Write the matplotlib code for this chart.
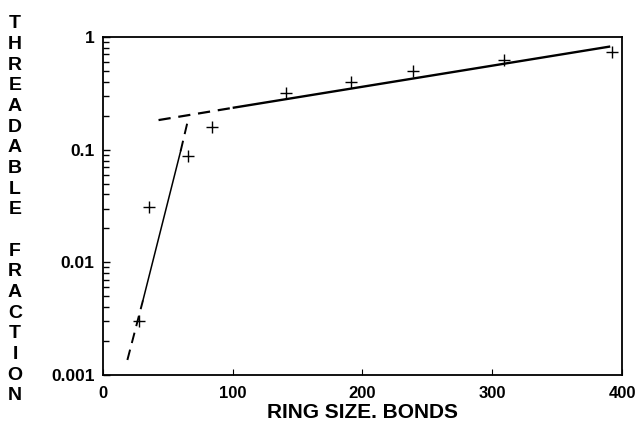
import matplotlib
matplotlib.use("Agg")
import matplotlib.pyplot as plt
from matplotlib.ticker import FixedLocator, NullFormatter, FixedFormatter

plt.rcParams['font.family'] = ['Liberation Sans', 'DejaVu Sans']

# Measured threadable fraction vs ring size (bonds)
ring_size = [28, 36, 66, 84, 141, 191, 239, 309, 392]
threadable = [0.0030, 0.031, 0.088, 0.158, 0.32, 0.40, 0.50, 0.62, 0.74]

# Small-ring fit: dashed extrapolation below, solid fit region, dashed above
steep_lo_x, steep_lo_y = [19, 31], [0.00136, 0.0046]
steep_mid_x, steep_mid_y = [31, 60], [0.0046, 0.097]
steep_hi_x, steep_hi_y = [60, 66], [0.097, 0.19]

# Large-ring fit: dashed extrapolation, solid fit region
flat_lo_x, flat_lo_y = [43, 101], [0.183, 0.236]
flat_mid_x, flat_mid_y = [101, 390], [0.236, 0.82]

y_ticks = [0.001, 0.01, 0.1, 1]
y_tick_labels = ["0.001", "0.01", "0.1", "1"]
x_ticks = [0, 100, 200, 300, 400]
x_tick_labels = ["0", "100", "200", "300", "400"]
ylabel_text = "THREADABLE FRACTION"
xlabel_text = "RING SIZE. BONDS"

fig = plt.figure(figsize=(6.38, 4.25), dpi=100)
ax = fig.add_axes([0.161, 0.1176, 0.814, 0.7954])

ax.set_yscale("log")
ax.set_xlim(0, 400)
ax.set_ylim(0.001, 1)

dash = (0, (5.5, 3.5))
ax.plot(steep_lo_x, steep_lo_y, color="black", lw=1.4, linestyle=dash)
ax.plot(steep_mid_x, steep_mid_y, color="black", lw=1.1)
ax.plot(steep_hi_x, steep_hi_y, color="black", lw=1.4, linestyle=dash)
ax.plot(flat_lo_x, flat_lo_y, color="black", lw=1.6, linestyle=dash)
ax.plot(flat_mid_x, flat_mid_y, color="black", lw=1.7)

ax.plot(ring_size, threadable, linestyle="none", marker="+", color="black",
        markersize=8, markeredgewidth=1.0)

for s in ax.spines.values():
    s.set_linewidth(1.3)

ax.yaxis.set_major_locator(FixedLocator(y_ticks))
ax.yaxis.set_major_formatter(FixedFormatter(y_tick_labels))
ax.yaxis.set_minor_formatter(NullFormatter())
ax.xaxis.set_major_locator(FixedLocator(x_ticks))
ax.xaxis.set_major_formatter(FixedFormatter(x_tick_labels))

ax.tick_params(axis="y", which="major", direction="in", length=5, width=1.0,
               pad=6, labelsize=12.5, left=True, right=False)
ax.tick_params(axis="y", which="minor", direction="in", length=4, width=1.0,
               left=True, right=False)
ax.tick_params(axis="x", which="major", direction="in", length=4, width=0.8,
               pad=8, labelsize=12, top=False)
for lab in ax.get_xticklabels() + ax.get_yticklabels():
    lab.set_fontweight("bold")

ax.set_xlabel(xlabel_text, fontsize=15, fontweight="bold", labelpad=1)

# Vertical stacked y-axis title, one letter per line
letters = list(ylabel_text)
y_top, y_bot = 24, 396
step = (y_bot - y_top) / (len(letters) - 1)
for i, ch in enumerate(letters):
    ypx = y_top + i * step
    fig.text(15 / 638, 1 - ypx / 425, ch, ha="center", va="center",
             fontsize=14, fontweight="bold")

fig.savefig("out.png", dpi=100)
